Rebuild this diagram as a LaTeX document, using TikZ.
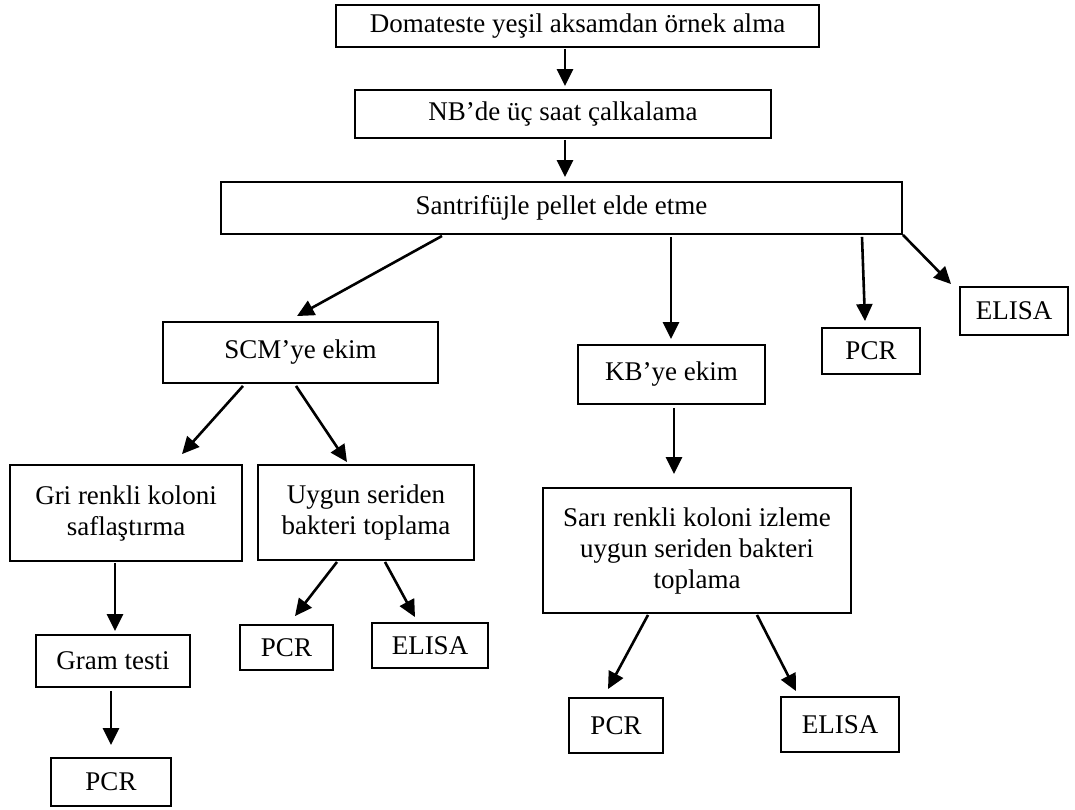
\documentclass[tikz,border=0pt]{standalone}
\usepackage{fontspec}
\setmainfont{Liberation Serif}
\usetikzlibrary{arrows.meta,calc}
\begin{document}
\begin{tikzpicture}[x=1pt,y=-1pt,
  box/.style={draw,line width=1.9pt,inner sep=0pt,align=center,
    font=\fontsize{27}{31}\selectfont},
  arr/.style={line width=2.6pt,-{Triangle[length=17pt,width=16pt]}}]
\useasboundingbox (0,0) rectangle (1075,809);
\fill[white] (0,0) rectangle (1075,809);
% boxes: center, width, height
\node[box,minimum width=483pt,minimum height=42pt] (b1) at (577.5,26) {Domateste yeşil aksamdan örnek alma};
\node[box,minimum width=416pt,minimum height=48pt] (b2) at (563,114) {NB’de üç saat çalkalama};
\node[box,minimum width=681pt,minimum height=52pt] (b3) at (561.5,208) {Santrifüjle pellet elde etme};
\node[box,minimum width=275pt,minimum height=61pt] (scm) at (300.5,352.5) {SCM’ye ekim};
\node[box,minimum width=187pt,minimum height=59pt] (kb) at (671.5,374.5) {KB’ye ekim};
\node[box,minimum width=98pt,minimum height=46pt] (pcr1) at (871,351) {PCR};
\node[box,minimum width=108pt,minimum height=48pt] (elisa1) at (1014,311) {ELISA};
\node[box,minimum width=232pt,minimum height=96pt] (gri) at (126,513) {Gri renkli koloni\\saflaştırma};
\node[box,minimum width=216pt,minimum height=95pt] (uygun) at (366,512.5) {Uygun seriden\\bakteri toplama};
\node[box,minimum width=308pt,minimum height=125pt] (sari) at (697,550.5) {Sarı renkli koloni izleme\\uygun seriden bakteri\\toplama};
\node[box,minimum width=154pt,minimum height=52pt] (gram) at (113,661) {Gram testi};
\node[box,minimum width=93pt,minimum height=45pt] (pcr2) at (286.5,647.5) {PCR};
\node[box,minimum width=116pt,minimum height=45pt] (elisa2) at (430,645.5) {ELISA};
\node[box,minimum width=94pt,minimum height=55pt] (pcr3) at (616,725.5) {PCR};
\node[box,minimum width=118pt,minimum height=55pt] (elisa3) at (840,724.5) {ELISA};
\node[box,minimum width=120pt,minimum height=48pt] (pcr4) at (111,782) {PCR};
% connectors
\draw[arr] ($(b1.south)+(-12.5,1)$) -- ($(b2.north)+(2,-3)$);
\draw[arr] ($(b2.south)+(2,1)$) -- ($(b3.north)+(3.5,-4)$);
\draw[arr] ($(b3.south)+(-119.5,1)$) -- ($(scm.north)+(-3.5,-5)$);
\draw[arr] ($(b3.south)+(109.5,2)$) -- ($(kb.north)+(-0.5,-5)$);
\draw[arr] ($(b3.south)+(300.5,2)$) -- ($(pcr1.north)+(-6,-6)$);
\draw[arr] (b3.south east) -- ($(elisa1.north west)+(-8,-2)$);
\draw[arr] ($(scm.south)+(-57.5,2)$) -- ($(gri.north)+(56,-10)$);
\draw[arr] ($(scm.south)+(-4.5,2)$) -- ($(uygun.north)+(-19,-2)$);
\draw[arr] ($(gri.south)+(-11,1)$) -- ($(gram.north)+(2,-3)$);
\draw[arr] ($(uygun.south)+(-29,1)$) -- ($(pcr2.north)+(8.5,-8)$);
\draw[arr] ($(uygun.south)+(19,1)$) -- ($(elisa2.north)+(-15,-5)$);
\draw[arr] ($(kb.south)+(2.5,3)$) -- ($(sari.north)+(-23,-13)$);
\draw[arr] ($(sari.south)+(-49,1)$) -- ($(pcr3.north)+(-8,-8)$);
\draw[arr] ($(sari.south)+(60,1)$) -- ($(elisa3.north)+(-44,-5)$);
\draw[arr] ($(gram.south)+(-2,3)$) -- ($(pcr4.north)+(0,-12)$);
\end{tikzpicture}
\end{document}
